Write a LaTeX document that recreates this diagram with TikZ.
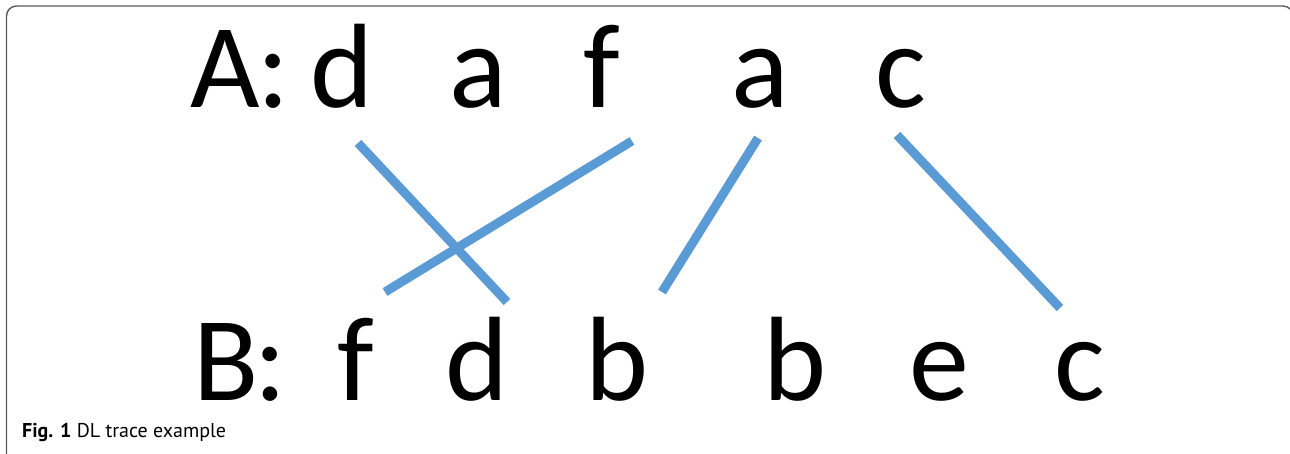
\documentclass[tikz,border=0pt]{standalone}
\usepackage{fontspec}
\setmainfont{Carlito}
\newfontfamily\capfont{PT Sans}
\definecolor{lineblue}{RGB}{91,155,213}
\definecolor{framegray}{RGB}{90,90,90}
\begin{document}
\begin{tikzpicture}[x=1pt,y=-1pt,
  letter/.style={inner sep=0pt,anchor=base,font=\fontsize{120}{120}\selectfont},
  trace/.style={draw=lineblue,line width=9pt},
  frame/.style={draw=framegray,line width=1.4pt,rounded corners=10pt}]
\useasboundingbox (0,0) rectangle (1290,453);
\clip (0,0) rectangle (1290,453);
\fill[white] (0,0) rectangle (1290,453);
\draw[frame] (6.5,480) |- (1293,6) -- (1293,480);
% row A
\node[letter] (aA) at (225,107) {A};
\node[letter] (aC) at (274,107) {:};
\node[letter] (a1) at (342.5,107) {d};
\node[letter] (a2) at (478.5,107) {a};
\node[letter] (a3) at (601.5,107) {f};
\node[letter] (a4) at (760.5,107) {a};
\node[letter] (a5) at (901,107) {c};
% row B
\node[letter] (bB) at (226,400) {B};
\node[letter] (bC) at (271,400) {:};
\node[letter] (b1) at (355.5,400) {f};
\node[letter] (b2) at (477.5,400) {d};
\node[letter] (b3) at (617.5,400) {b};
\node[letter] (b4) at (795.5,400) {b};
\node[letter] (b5) at (939,400) {e};
\node[letter] (b6) at (1080,400) {c};
% trace ends
\coordinate (s1) at (358,143); \coordinate (t1) at (507,302);
\coordinate (s2) at (632,141); \coordinate (t2) at (385,292);
\coordinate (s3) at (758,138); \coordinate (t3) at (662,292);
\coordinate (s4) at (897,135); \coordinate (t4) at (1060,308);
\draw[trace] (s1) -- (t1);
\draw[trace] (s2) -- (t2);
\draw[trace] (s3) -- (t3);
\draw[trace] (s4) -- (t4);
% caption
\node[inner sep=0pt,anchor=base west,font=\capfont\fontsize{20}{20}\selectfont] (cap) at (22,437) {\textbf{Fig. 1} DL trace example};
\end{tikzpicture}
\end{document}
